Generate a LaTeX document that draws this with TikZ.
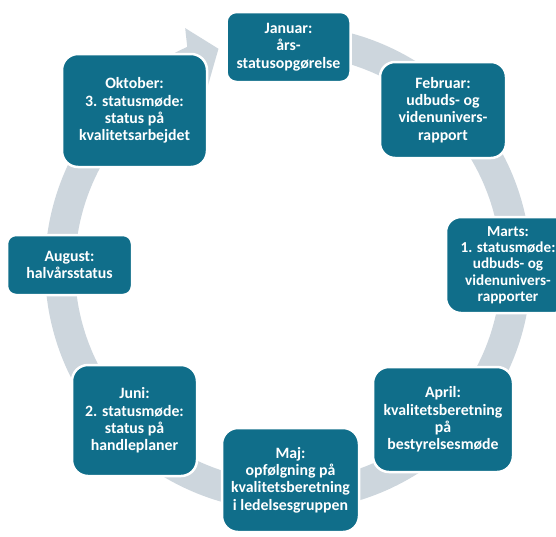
\documentclass[tikz,border=0pt]{standalone}
\usepackage{fontspec}
\setmainfont{Carlito}[BoldFont={Carlito Bold}]
\definecolor{boxteal}{RGB}{16,110,138}
\definecolor{ringgray}{RGB}{205,214,221}
\begin{document}
\begin{tikzpicture}[x=1pt,y=-1pt,
  box/.style={draw=white, line width=2.5pt, fill=boxteal, text=white, align=center,
    inner sep=0pt, font=\bfseries\fontsize{15.8}{17.3}\selectfont},
  ring/.style={fill=ringgray}
]
\useasboundingbox (0,0) rectangle (556,536);
\clip (0,0) rectangle (556,536);
\fill[white] (0,0) rectangle (556,536);
\begin{scope}[shift={(288,268)}]
  \fill[ring] (262:243) arc[start angle=262, end angle=606, radius=243]
     -- (606:213) arc[start angle=606, end angle=262, radius=213] -- cycle;
  \fill[ring] (245.5:213) -- (245.5:243) -- (246.8:261) -- (252.4:230) -- (246:198) -- cycle;
\end{scope}
\node[box, rounded corners=10pt, minimum width=124pt, minimum height=70pt] (jan) at (288.5,47)
  {Januar:\\års-\\statusopgørelse};
\node[box, rounded corners=15pt, minimum width=126pt, minimum height=96pt] (feb) at (443,110)
  {Februar:\\udbuds- og\\videnunivers-\\rapport};
\node[box, rounded corners=15pt, minimum width=124pt, minimum height=96pt,
  font=\bfseries\fontsize{15.2}{16.3}\selectfont] (mar) at (508,265)
  {Marts:\\1. statusmøde:\\udbuds- og\\videnunivers-\\rapporter};
\node[box, rounded corners=16pt, minimum width=140pt, minimum height=105pt] (apr) at (443,419.5)
  {April:\\kvalitetsberetning\\på\\bestyrelsesmøde};
\node[box, rounded corners=16pt, minimum width=137pt, minimum height=104pt] (maj) at (290.5,480)
  {Maj:\\opfølgning på\\kvalitetsberetning\\i ledelsesgruppen};
\node[box, rounded corners=16pt, minimum width=125pt, minimum height=111pt] (jun) at (134.5,420.5)
  {Juni:\\2. statusmøde:\\status på\\handleplaner};
\node[box, rounded corners=9pt, minimum width=125pt, minimum height=60pt] (aug) at (69.5,265)
  {August:\\halvårsstatus};
\node[box, rounded corners=16pt, minimum width=145pt, minimum height=113pt] (okt) at (134.5,110.5)
  {Oktober:\\3. statusmøde:\\status på\\kvalitetsarbejdet};
\end{tikzpicture}
\end{document}
